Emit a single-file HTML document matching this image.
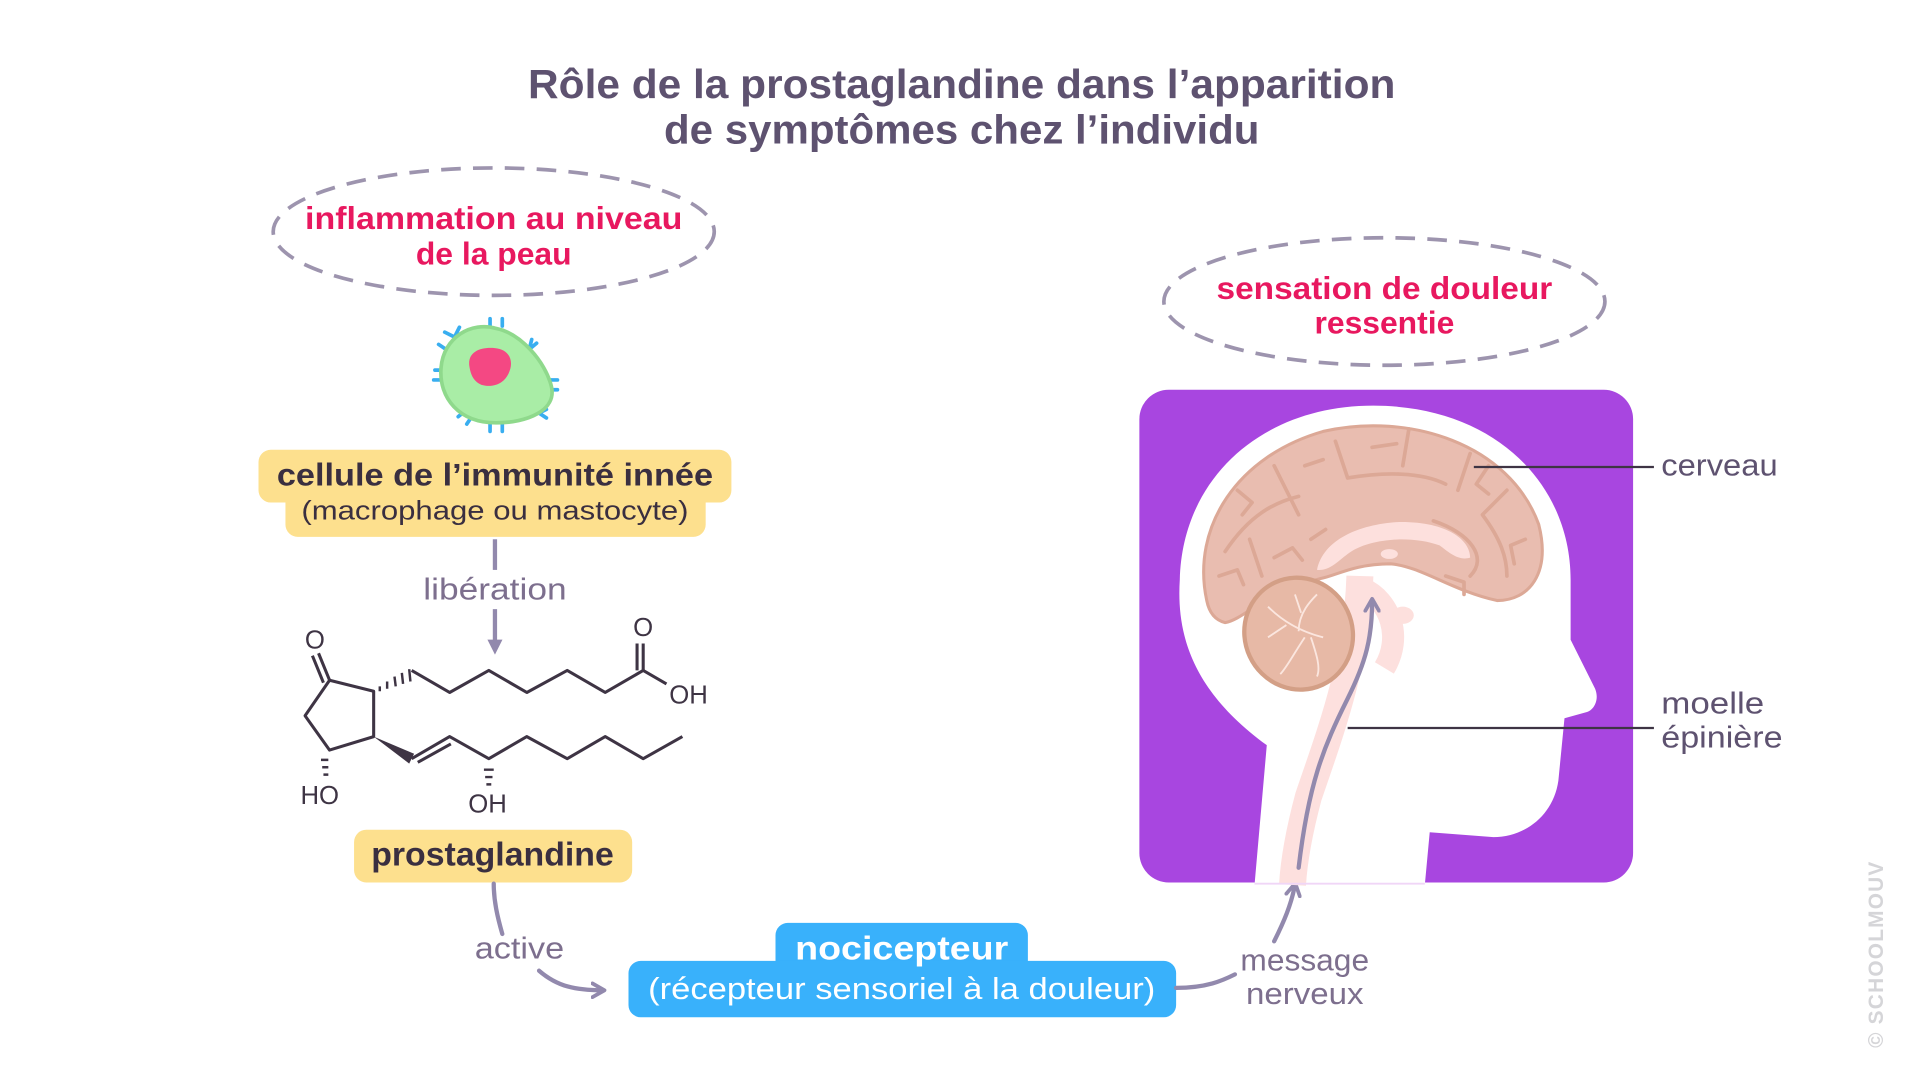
<!DOCTYPE html>
<html><head><meta charset="utf-8"><style>html,body{margin:0;padding:0;background:#fff}svg{display:block}</style></head>
<body>
<svg width="1921" height="1081" viewBox="0 0 1568 882" preserveAspectRatio="none" xmlns="http://www.w3.org/2000/svg" font-family="Liberation Sans, sans-serif">
<defs>
<marker id="ah" viewBox="0 0 10 10" refX="7" refY="5" markerWidth="4" markerHeight="4" orient="auto"><path d="M1,1 L8,5 L1,9" fill="none" stroke="#9289ad" stroke-width="2.2" stroke-linecap="round" stroke-linejoin="round"/></marker>
<marker id="ahs" viewBox="0 0 10 10" refX="5" refY="5" markerWidth="3.5" markerHeight="3.5" orient="auto"><path d="M0,0 L10,5 L0,10Z" fill="#9289ad"/></marker>
</defs>
<g fill="#5e5270" font-weight="bold" font-size="33" text-anchor="middle">
<text x="785" y="80" textLength="708" lengthAdjust="spacingAndGlyphs">Rôle de la prostaglandine dans l’apparition</text>
<text x="785" y="117" textLength="486" lengthAdjust="spacingAndGlyphs">de symptômes chez l’individu</text>
</g>
<g fill="none" stroke="#9d94ae" stroke-width="3" stroke-dasharray="16 10">
<ellipse cx="403" cy="189" rx="180" ry="52"/>
<ellipse cx="1130" cy="246" rx="180" ry="52"/>
</g>
<g fill="#e8185f" font-weight="bold" font-size="26" text-anchor="middle">
<text x="403" y="187" textLength="308" lengthAdjust="spacingAndGlyphs">inflammation au niveau</text>
<text x="403" y="216">de la peau</text>
<text x="1130" y="244" textLength="274" lengthAdjust="spacingAndGlyphs">sensation de douleur</text>
<text x="1130" y="272">ressentie</text>
</g>
<g stroke="#39aef0" stroke-width="3" fill="none" stroke-linecap="round">
<path d="M371,275 l-8,-4 M371,275 l4,-8"/><path d="M400,266 v-6 M410,266 v-6"/><path d="M432,285 l6,-5 M432,285 l2,-8"/>
<path d="M447,310 h8 M447,318 h8"/><path d="M440,337 l6,4 M440,337 l6,-3"/><path d="M410,346 v6 M400,346 v6"/>
<path d="M380,335 l-6,5 M385,340 l-4,6"/><path d="M362,310 h-8 M362,302 h-7"/><path d="M364,285 l-6,-4"/>
</g>
<path d="M360,300 C362,275 385,262 405,268 C425,272 445,295 450,315 C455,335 430,345 405,345 C375,345 358,325 360,300Z" fill="#a9eda6" stroke="#8fd98c" stroke-width="3"/>
<path d="M383,298 C382,287 392,283 404,284 C416,285 420,295 415,305 C410,315 400,316 393,314 C386,311 384,305 383,298Z" fill="#f44883"/>
<rect x="211" y="367" width="386" height="43" rx="10" fill="#fde08e"/>
<rect x="233" y="400" width="343" height="38" rx="10" fill="#fde08e"/>
<text x="404" y="396" text-anchor="middle" font-weight="bold" font-size="26" fill="#3a2f40" textLength="356" lengthAdjust="spacingAndGlyphs">cellule de l’immunité innée</text>
<text x="404" y="424" text-anchor="middle" font-size="22" fill="#3a2f40" textLength="316" lengthAdjust="spacingAndGlyphs">(macrophage ou mastocyte)</text>
<line x1="404" y1="440" x2="404" y2="465" stroke="#9289ad" stroke-width="3.5"/>
<text x="404" y="489" text-anchor="middle" font-size="25" fill="#7d6f8e" textLength="117" lengthAdjust="spacingAndGlyphs">libération</text>
<line x1="404" y1="497" x2="404" y2="528" stroke="#9289ad" stroke-width="3.5" marker-end="url(#ahs)"/>
<g stroke="#3e3444" stroke-width="2.5" fill="none" stroke-linejoin="round">
<path d="M269,555 L305,564 L305,601 L269,612 L249,584 Z"/>
<path d="M269,555 L260,533 M264,557 L255,535"/>
<path d="M336,547 L367,565 L399,547 L430,565 L463,547 L494,565 L525,547 L544,558"/>
<path d="M525,547 L525,525 M520,547 L520,525"/>
<path d="M336,619 L367,601 L399,619 L430,601 L463,619 L494,601 L525,619 L557,601"/>
<path d="M341,622 L368,607"/>
<path d="M310,560 l0,4 M316,556 l0,6 M322,552 l1,8 M328,549 l1,9 M334,546 l1,10" stroke-width="2"/>
<path d="M395,628 h8 M396,634 h6 M397,640 h4" stroke-width="2"/>
<path d="M262,620 h6 M263,626 h5 M264,632 h4" stroke-width="2"/>
</g>
<path d="M305,601 L338,615 L334,623 Z" fill="#3e3444"/>
<g fill="#3e3444" font-size="21" text-anchor="middle">
<text x="257" y="529">O</text><text x="525" y="519">O</text>
<text x="562" y="574">OH</text><text x="261" y="656">HO</text><text x="398" y="663">OH</text>
</g>
<rect x="289" y="677" width="227" height="43" rx="10" fill="#fde08e"/>
<text x="402" y="706" text-anchor="middle" font-weight="bold" font-size="27" fill="#3a2f40" textLength="198" lengthAdjust="spacingAndGlyphs">prostaglandine</text>
<path d="M403,721 C403,735 406,748 410,762" fill="none" stroke="#9289ad" stroke-width="3.5" stroke-linecap="round"/>
<text x="424" y="782" text-anchor="middle" font-size="25" fill="#7d6f8e" textLength="73" lengthAdjust="spacingAndGlyphs">active</text>
<path d="M440,792 C455,805 470,808 492,808" fill="none" stroke="#9289ad" stroke-width="3.5" stroke-linecap="round" marker-end="url(#ah)"/>
<rect x="633" y="753" width="206" height="45" rx="10" fill="#39b1fb"/>
<rect x="513" y="784" width="447" height="46" rx="10" fill="#39b1fb"/>
<text x="736" y="783" text-anchor="middle" font-weight="bold" font-size="27" fill="#fff" textLength="174" lengthAdjust="spacingAndGlyphs">nocicepteur</text>
<text x="736" y="815" text-anchor="middle" font-size="25" fill="#fff" textLength="414" lengthAdjust="spacingAndGlyphs">(récepteur sensoriel à la douleur)</text>
<path d="M960,806 C985,806 998,800 1008,795" fill="none" stroke="#9289ad" stroke-width="3.5" stroke-linecap="round"/>
<text x="1065" y="792" text-anchor="middle" font-size="25" fill="#7d6f8e" textLength="105" lengthAdjust="spacingAndGlyphs">message</text>
<text x="1065" y="819" text-anchor="middle" font-size="25" fill="#7d6f8e" textLength="96" lengthAdjust="spacingAndGlyphs">nerveux</text>
<path d="M1040,768 C1048,752 1054,738 1057,722" fill="none" stroke="#9289ad" stroke-width="3.5" stroke-linecap="round" marker-end="url(#ah)"/>
<rect x="930" y="318" width="403" height="402" rx="24" fill="#a846e0"/>
<path d="M1024,722 L1034,608 C975,565 960,520 963,473 C965,390 1030,331 1121,331 C1220,331 1282,395 1282,473 L1282,522 L1302,562 C1306,572 1300,580 1295,581 L1277,586 L1272,637 C1268,665 1245,683 1219,683 L1167,679 L1163,722 Z" fill="#fff"/>
<path d="M1110,470 C1108,540 1085,600 1068,650 C1060,680 1056,705 1055,722" fill="none" stroke="#fde0de" stroke-width="22"/>
<path d="M1112,480 C1135,490 1145,520 1130,545" fill="none" stroke="#fde0de" stroke-width="18"/>
<path d="M985,490 C972,430 1010,372 1080,352 C1150,336 1232,362 1256,428 C1266,468 1248,490 1222,490 C1185,482 1160,462 1135,460 C1105,460 1090,470 1078,472 L1050,480 C1025,492 1012,506 1000,508 C992,506 987,500 985,490Z" fill="#e9bdb0" stroke="#dca896" stroke-width="2.5"/>
<g fill="none" stroke="#dca896" stroke-width="3" stroke-linecap="round" stroke-linejoin="round">
<path d="M1000,450 C1020,420 1040,410 1060,405 M1040,380 L1060,420 M1090,360 L1100,390 C1130,385 1160,385 1180,395 M1150,350 L1145,380 M1200,370 L1190,400 M1230,400 L1210,420 C1225,440 1230,455 1230,470 M1020,440 L1030,470 M1170,425 C1200,435 1215,455 1200,470"/>
<path d="M995,470 l15,-5 l5,12 M1010,400 l12,10 l-8,10 M1065,380 l15,-5 M1120,365 l20,-3 M1215,380 l-10,15 l10,8 M1245,440 l-12,5 l3,15 M1040,455 l15,-8 l8,10 M1180,470 l15,5 l0,10 M1070,440 l12,-8"/>
</g>
<path d="M1075,465 C1080,440 1110,428 1140,426 C1180,425 1200,440 1200,455 C1190,458 1182,450 1175,445 C1150,436 1115,440 1100,452 C1092,458 1085,466 1075,465Z" fill="#fde0dd"/>
<ellipse cx="1134" cy="452" rx="7" ry="4" fill="#fde0dd"/>
<ellipse cx="1145" cy="502" rx="9" ry="7" fill="#fde0dd"/>
<ellipse cx="1060" cy="517" rx="44" ry="46" transform="rotate(-25 1060 517)" fill="#e7b9a6" stroke="#d39f86" stroke-width="3.5"/>
<g fill="none" stroke="#fbe6df" stroke-width="1.5"><path d="M1080,520 C1060,515 1045,505 1035,495 M1060,515 C1060,500 1070,490 1075,485 M1065,520 C1055,535 1050,545 1045,550 M1070,520 C1075,535 1078,545 1075,552 M1050,510 l-15,10 M1062,500 l-5,-15"/></g>
<path d="M1060,708 C1068,640 1080,610 1100,570 C1115,540 1120,520 1120,490" fill="none" stroke="#9289ad" stroke-width="3.5" stroke-linecap="round" marker-end="url(#ah)"/>
<line x1="1024" y1="721" x2="1163" y2="721" stroke="#f0d6f7" stroke-width="1.5"/>
<line x1="1203" y1="381" x2="1350" y2="381" stroke="#3e3444" stroke-width="1.8"/>
<line x1="1100" y1="594" x2="1350" y2="594" stroke="#3e3444" stroke-width="1.8"/>
<g fill="#5e5270" font-size="25">
<text x="1356" y="388" textLength="95" lengthAdjust="spacingAndGlyphs">cerveau</text>
<text x="1356" y="582" textLength="84" lengthAdjust="spacingAndGlyphs">moelle</text>
<text x="1356" y="610" textLength="99" lengthAdjust="spacingAndGlyphs">épinière</text>
</g>
<text transform="translate(1537,855) rotate(-90)" font-size="17" font-weight="bold" fill="#d5d5d8" letter-spacing="1">© SCHOOLMOUV</text>
</svg>
</body></html>
